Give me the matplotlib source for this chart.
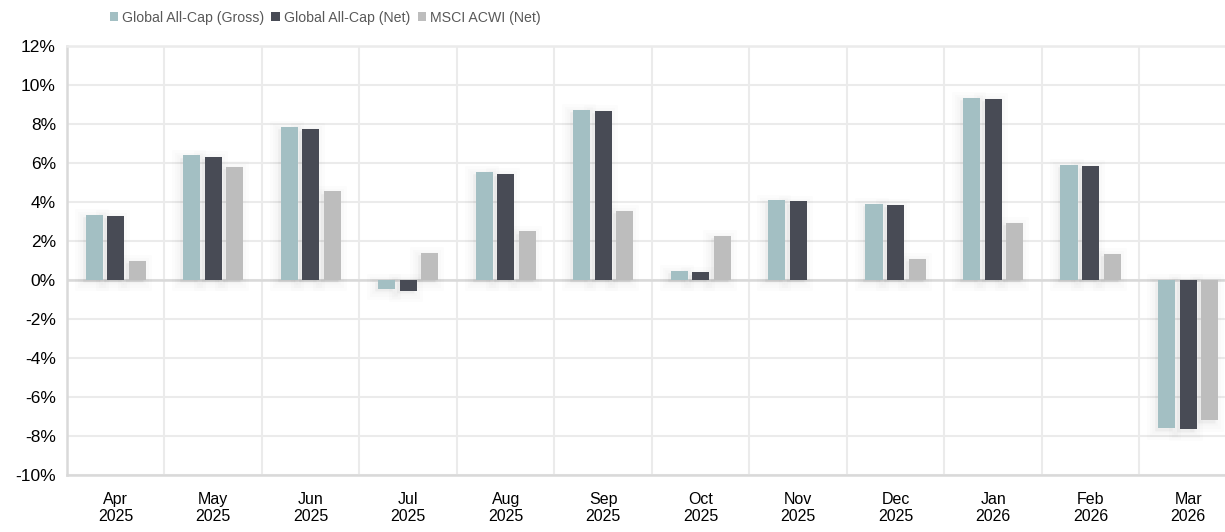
import matplotlib.pyplot as plt
import numpy as np

plt.rcParams['font.family'] = ['Liberation Sans', 'DejaVu Sans']

# monthly returns, %
months = ['Apr\n2025', 'May\n2025', 'Jun\n2025', 'Jul\n2025', 'Aug\n2025', 'Sep\n2025',
          'Oct\n2025', 'Nov\n2025', 'Dec\n2025', 'Jan\n2026', 'Feb\n2026', 'Mar\n2026']
gross = [3.33, 6.40, 7.85, -0.45, 5.55, 8.72, 0.47, 4.09, 3.90, 9.35, 5.90, -7.60]
net = [3.28, 6.33, 7.75, -0.55, 5.45, 8.67, 0.40, 4.04, 3.85, 9.30, 5.85, -7.65]
acwi = [0.97, 5.80, 4.55, 1.40, 2.50, 3.54, 2.26, np.nan, 1.08, 2.92, 1.33, -7.20]

names = ['Global All-Cap (Gross)', 'Global All-Cap (Net)', 'MSCI ACWI (Net)']
colors = ['#a3bfc3', '#484b55', '#bdbdbd']

fig = plt.figure(figsize=(12.25, 5.32), dpi=100)
ax = fig.add_axes([0.0547, 0.107, 0.955, 0.8065])

x = np.arange(len(months))
w = 0.175
step = 0.222

for i, (vals, c, n) in enumerate(zip([gross, net, acwi], colors, names)):
    pos = x + (i - 1) * step
    # faint blurred shadow, nudged left and down
    for lw in (12, 8, 4):
        ax.bar(pos - 0.03, vals, bottom=-0.12, width=w, color=(0, 0, 0, 0.012),
               edgecolor=(0, 0, 0, 0.012), linewidth=lw, zorder=2.5)
    ax.bar(pos, vals, width=w, color=c, label=n, zorder=3)

ax.set_xlim(-0.5, len(months) - 0.5)
ax.set_ylim(-10, 12)
ax.set_yticks(np.arange(-10, 13, 2))
ax.set_yticklabels([f'{v}%' for v in range(-10, 13, 2)], fontsize=12.5)
ax.set_xticks(x)
ax.set_xticklabels(months, fontsize=11.5)
ax.set_xticks(np.arange(-0.5, len(months), 1), minor=True)
ax.tick_params(axis='both', which='both', length=0, colors='black')
ax.tick_params(axis='x', pad=12)
ax.tick_params(axis='y', pad=8)

ax.grid(axis='y', color='#ebebeb', linewidth=1.5, zorder=0)
ax.grid(axis='x', which='minor', color='#ebebeb', linewidth=1.5, zorder=0)
ax.axhline(0, color='#d9d9d9', linewidth=1.8, zorder=2)
for s in ax.spines.values():
    s.set_color('#d9d9d9')
    s.set_linewidth(1.8)
ax.spines['top'].set_color('#ebebeb')
ax.spines['right'].set_visible(False)

fig.legend(loc='upper left', bbox_to_anchor=(0.079, 1.004), ncol=3, frameon=False,
           fontsize=10.2, handlelength=0.6, handleheight=0.6, handletextpad=0.3,
           columnspacing=0.5, labelcolor='#595959')

fig.savefig('out.png', dpi=100)
